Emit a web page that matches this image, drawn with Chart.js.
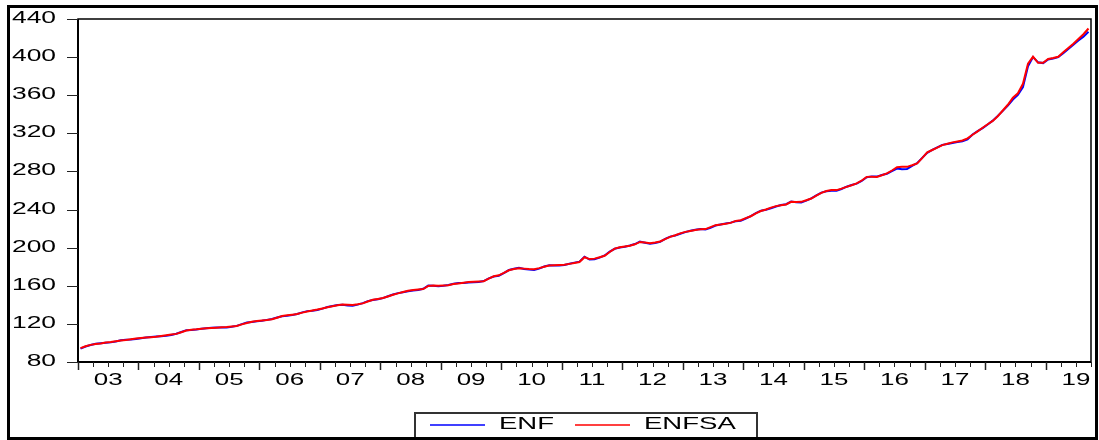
<!DOCTYPE html>
<html>
<head>
<meta charset="utf-8">
<script src="https://cdn.jsdelivr.net/npm/chart.js@4.4.1/dist/chart.umd.min.js"></script>
<style>
  body { margin: 0; background: #fff; }
  canvas { display: block; }
</style>
</head>
<body>
<canvas id="enf" width="1099" height="440"></canvas>
<script>
// monthly data, Jan 2003 .. Sep 2019
var startYear = 2003;
var endYear = 2019.75;
var yearLabels = ["03", "04", "05", "06", "07", "08", "09", "10", "11", "12", "13", "14", "15", "16", "17", "18", "19"];
var yTicks = [80, 120, 160, 200, 240, 280, 320, 360, 400, 440];
var seriesNames = ["ENF", "ENFSA"];

var enf = [
  94.0, 96.2, 97.8, 99.2, 99.8, 100.2, 100.6, 101.5, 102.8, 103.4, 103.5, 104.2,
  105.0, 105.8, 106.3, 106.8, 106.9, 107.5, 108.4, 109.6, 111.5, 113.4, 113.6, 114.0,
  114.8, 115.5, 115.9, 116.2, 116.2, 116.3, 116.9, 117.9, 119.8, 121.4, 122.0, 122.7,
  123.3, 124.2, 125.1, 126.8, 128.0, 128.5, 129.2, 130.4, 132.1, 133.4, 133.8, 134.6,
  136.0, 137.7, 138.8, 139.8, 140.0, 139.4, 139.0, 140.2, 141.8, 143.9, 145.1, 145.8,
  147.0, 149.0, 150.8, 152.3, 153.2, 154.2, 155.0, 155.6, 156.8, 160.2, 160.0, 159.6,
  160.0, 160.8, 162.2, 162.8, 162.9, 163.5, 163.6, 164.0, 165.0, 167.8, 169.8, 170.6,
  173.2, 176.5, 177.8, 178.8, 177.7, 177.0, 176.6, 178.0, 180.2, 181.6, 181.2, 181.4,
  181.8, 183.2, 184.3, 185.3, 190.5, 187.5, 187.8, 189.5, 191.8, 195.8, 198.8, 200.1,
  201.0, 202.2, 203.8, 206.3, 205.2, 204.0, 204.8, 206.2, 209.3, 211.6, 212.8, 214.6,
  216.3, 217.7, 218.8, 219.6, 219.0, 220.8, 223.2, 224.4, 225.3, 226.3, 227.8, 228.2,
  230.6, 233.2, 236.3, 238.8, 239.8, 241.4, 243.2, 244.7, 245.6, 248.4, 247.6, 247.5,
  249.3, 251.8, 254.8, 257.8, 259.2, 259.8, 259.8, 261.6, 264.0, 265.8, 267.2, 270.0,
  273.9, 274.7, 274.6, 276.3, 277.5, 280.3, 283.0, 282.4, 282.6, 285.8, 288.6, 294.3,
  299.6, 302.7, 305.3, 307.9, 308.8, 309.9, 310.8, 311.6, 313.6, 318.8, 322.3, 325.5,
  329.2, 333.3, 338.3, 343.6, 349.0, 355.5, 360.5, 368.5, 390.5, 400.0, 394.5, 393.7,
  397.5, 398.6, 400.0, 404.0, 408.5, 413.0, 417.5, 421.5, 426.7
];

var enfsa = [
  94.5, 96.5, 98.0, 99.0, 99.5, 100.5, 101.0, 101.8, 102.5, 103.0, 103.8, 104.6,
  105.2, 105.6, 106.0, 106.5, 107.2, 108.0, 108.8, 109.5, 111.2, 113.0, 113.8, 114.3,
  115.0, 115.3, 115.6, 116.0, 116.5, 116.8, 117.3, 117.8, 119.5, 121.0, 122.2, 123.0,
  123.5, 124.0, 124.8, 126.5, 128.3, 129.0, 129.6, 130.3, 131.8, 133.0, 134.0, 135.0,
  136.2, 137.5, 138.5, 139.5, 140.3, 140.0, 139.8, 140.5, 141.5, 143.5, 145.3, 146.2,
  147.2, 148.8, 150.5, 152.0, 153.5, 154.8, 155.6, 156.0, 156.5, 159.8, 160.2, 160.0,
  160.3, 160.6, 161.9, 162.5, 163.2, 164.0, 164.3, 164.5, 164.8, 167.5, 170.0, 171.0,
  173.5, 176.3, 177.5, 178.5, 178.0, 177.6, 177.4, 178.5, 180.0, 181.3, 181.5, 181.8,
  182.0, 183.0, 184.0, 185.0, 190.0, 188.0, 188.5, 190.0, 191.5, 195.5, 199.0, 200.5,
  201.3, 202.0, 203.5, 206.0, 205.5, 204.7, 205.5, 206.5, 209.0, 211.3, 213.0, 215.0,
  216.6, 217.5, 218.5, 219.4, 219.5, 221.5, 223.6, 224.2, 225.0, 226.0, 228.1, 228.8,
  231.0, 233.0, 236.0, 238.5, 240.1, 242.0, 243.6, 244.5, 245.3, 248.1, 248.0, 248.1,
  249.8, 251.6, 254.5, 257.5, 259.5, 260.4, 260.4, 262.0, 263.8, 265.5, 267.4, 270.5,
  274.3, 274.5, 274.3, 276.0, 277.9, 281.0, 284.5, 284.8, 284.8, 286.5, 288.4, 294.0,
  300.0, 302.5, 305.0, 307.6, 309.0, 310.5, 311.5, 312.5, 314.7, 318.5, 322.0, 325.8,
  329.5, 333.0, 338.0, 344.0, 350.0, 357.3, 362.0, 372.0, 393.0, 400.4, 394.0, 394.0,
  398.0, 399.0, 400.4, 405.0, 409.5, 414.0, 419.0, 424.0, 430.0
];

var colors = ["#0000ff", "#ff0000"];

function toPoints(values) {
  return values.map(function (v, i) {
    return { x: startYear + (i + 0.5) / 12, y: v };
  });
}

// stretched text, like the eviews export
function wideText(ctx, text, x, y, align, sx) {
  ctx.save();
  ctx.translate(x, y);
  ctx.scale(sx, 1);
  ctx.textAlign = align;
  ctx.fillText(text, 0, 0);
  ctx.restore();
}

var eviewsFrame = {
  id: "eviewsFrame",
  beforeDraw: function (chart) {
    var ctx = chart.ctx;
    ctx.save();
    ctx.fillStyle = "#fff";
    ctx.fillRect(0, 0, chart.width, chart.height);
    ctx.restore();
  },
  afterDraw: function (chart) {
    var ctx = chart.ctx;
    var a = chart.chartArea;
    var xs = chart.scales.x;
    var ys = chart.scales.y;
    ctx.save();

    // plot box
    ctx.strokeStyle = "#000";
    ctx.lineWidth = 1.5;
    ctx.strokeRect(a.left, a.top, a.right - a.left, a.bottom - a.top);
    ctx.lineWidth = 2;
    ctx.beginPath();
    ctx.moveTo(a.left, a.top);
    ctx.lineTo(a.left, a.bottom);
    ctx.lineTo(a.right, a.bottom);
    ctx.stroke();

    // y ticks + labels
    ctx.fillStyle = "#000";
    ctx.font = "16px 'Liberation Sans', Arial, sans-serif";
    ctx.textBaseline = "middle";
    ctx.lineWidth = 1;
    ctx.strokeStyle = "#222";
    yTicks.forEach(function (t) {
      var py = Math.round(ys.getPixelForValue(t)) + 0.5;
      ctx.beginPath();
      ctx.moveTo(a.left - 11, py);
      ctx.lineTo(a.left, py);
      ctx.stroke();
      wideText(ctx, String(t), 56, py - 1, "right", 1.65);
    });

    // x ticks: years and quarters
    for (var q = startYear * 4; q <= endYear * 4; q++) {
      var px = Math.round(xs.getPixelForValue(q / 4)) + 0.5;
      var major = q % 4 === 0;
      ctx.lineWidth = major ? 1.5 : 1;
      ctx.beginPath();
      ctx.moveTo(px, a.bottom);
      ctx.lineTo(px, a.bottom + (major ? 8 : 5));
      ctx.stroke();
    }
    yearLabels.forEach(function (lab, i) {
      var px = xs.getPixelForValue(startYear + i + 0.5);
      wideText(ctx, lab, px, a.bottom + 19, "center", 1.62);
    });

    // legend box
    ctx.lineWidth = 2;
    ctx.strokeStyle = "#333";
    ctx.strokeRect(415, 413, 342, 30);
    ctx.font = "17px 'Liberation Sans', Arial, sans-serif";
    var items = [
      { x0: 430, x1: 485, tx: 499 },
      { x0: 575, x1: 630, tx: 644 }
    ];
    chart.data.datasets.forEach(function (ds, i) {
      var it = items[i];
      ctx.strokeStyle = ds.borderColor;
      ctx.lineWidth = 1.5;
      ctx.beginPath();
      ctx.moveTo(it.x0, 425);
      ctx.lineTo(it.x1, 425);
      ctx.stroke();
      ctx.fillStyle = "#000";
      wideText(ctx, ds.label, it.tx, 424, "left", 1.62);
    });

    // outer border
    ctx.lineWidth = 3;
    ctx.strokeStyle = "#000";
    ctx.strokeRect(8.5, 6.5, 1088, 432);
    ctx.restore();
  }
};

function draw_chart() {
  var config = {
    type: "line",
    data: {
      datasets: [
        {
          label: seriesNames[0],
          data: toPoints(enf),
          borderColor: colors[0],
          borderWidth: 2,
          pointRadius: 0,
          order: 1,
        },
        {
          label: seriesNames[1],
          data: toPoints(enfsa),
          borderColor: colors[1],
          borderWidth: 2,
          pointRadius: 0,
          order: 0,
        },
      ],
    },
    options: {
      responsive: false,
      animation: false,
      devicePixelRatio: 1,
      layout: { padding: { left: 78, top: 19, right: 8, bottom: 78 } },
      plugins: { legend: { display: false }, tooltip: { enabled: false } },
      scales: {
        x: { type: "linear", min: startYear, max: endYear, display: false },
        y: { type: "linear", min: 80, max: 440, display: false },
      },
    },
    plugins: [eviewsFrame],
  };
  var ctx = document.getElementById("enf").getContext("2d");
  new Chart(ctx, config);
}

draw_chart();
</script>
</body>
</html>
